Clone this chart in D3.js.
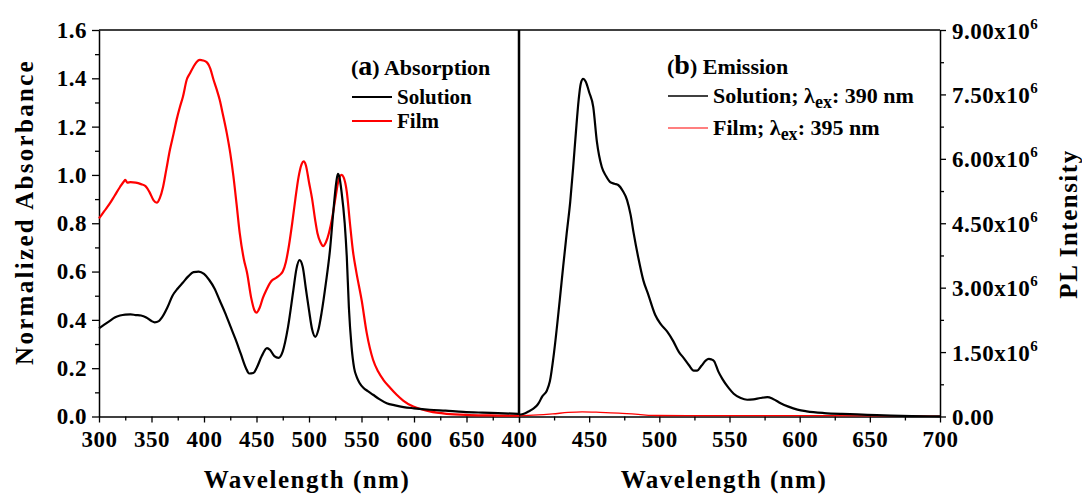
<!DOCTYPE html>
<html>
<head>
<meta charset="utf-8">
<script src="https://cdn.jsdelivr.net/npm/d3@7"></script>
<style>
  html, body { margin: 0; padding: 0; background: #fff; }
  svg text { font-family: "Liberation Serif", "Times New Roman", serif; font-weight: bold; fill: #000; }
</style>
</head>
<body>
<svg id="chart" width="1082" height="495"></svg>
<script>
// (a) Absorption spectra, normalized
const solAbsNm = [300,305,310,315,320,325,330,335,340,345,350,353,357,360,365,370,375,380,385,390,395,400,405,410,415,420,425,430,435,440,443,447,450,455,460,463,467,471,475,480,485,488,491,494,497,500,503,506,509,512,516,520,523,526,527.5,529,531,534,536,538,540.5,543,545.5,548,552,556,561,567,574,582,590,600,615,630,647,665,680,700];
const solAbs   = [0.365,0.38,0.395,0.41,0.418,0.422,0.423,0.42,0.418,0.41,0.395,0.39,0.395,0.41,0.45,0.50,0.53,0.555,0.58,0.598,0.60,0.59,0.565,0.53,0.48,0.43,0.375,0.32,0.26,0.20,0.178,0.18,0.20,0.25,0.283,0.275,0.25,0.243,0.27,0.37,0.52,0.61,0.647,0.62,0.53,0.44,0.36,0.33,0.36,0.43,0.55,0.69,0.84,0.97,1.005,0.99,0.93,0.80,0.66,0.45,0.29,0.20,0.163,0.14,0.118,0.105,0.09,0.072,0.055,0.046,0.039,0.034,0.028,0.024,0.019,0.016,0.014,0.011];

const filmAbsNm = [300,305,310,315,320,324,325,327,330,335,340,344,348,352,355,358,361,364,367.6,371,374,377,380,383.6,386.5,389.6,393,396,399,403,406,409,412,415,418,421.6,425,428,431,434,438,441,445,448,450,453,456,459.5,464,469,472,475,478,481,484,487,490,493,495,497,500,503,506,508,511,513.5,516,519,522,525,528,531,533,536,539,542,545,550.2,555,561,566,570.8,577,583.5,590,599.3,607,615,631,653,680,700];
const filmAbs   = [0.82,0.85,0.88,0.915,0.95,0.975,0.98,0.968,0.97,0.968,0.962,0.955,0.93,0.895,0.885,0.905,0.95,1.02,1.105,1.17,1.23,1.28,1.325,1.395,1.42,1.445,1.468,1.476,1.474,1.465,1.44,1.395,1.355,1.31,1.25,1.175,1.09,0.995,0.88,0.76,0.65,0.595,0.49,0.44,0.43,0.45,0.49,0.525,0.56,0.575,0.585,0.60,0.64,0.71,0.80,0.90,0.99,1.045,1.056,1.04,0.97,0.90,0.81,0.76,0.72,0.705,0.72,0.76,0.82,0.90,0.975,1.0,0.99,0.93,0.80,0.68,0.60,0.48,0.345,0.235,0.185,0.152,0.12,0.09,0.065,0.041,0.03,0.021,0.011,0.006,0.004,0.003];

// (b) Emission spectra, PL counts
const solPLNm = [400,404,407,410,412.6,414,416.6,419.8,422,425,429,431.5,434,436.5,438.6,440.5,442.5,444,445.7,447.5,450,452.9,455.5,459,462,465,468,470.7,474,477,479.5,481.7,485,488.6,492,497,501,505.5,510,514,517.4,521,524.5,527,530,533,535.3,537,539,542,545,549.5,553,558,562.6,567,572,577,581,586.4,592,598.4,605,617.4,630,641,655,665,680,700];
const solPL   = [0.04e6,0.07e6,0.12e6,0.18e6,0.25e6,0.31e6,0.47e6,0.60e6,0.82e6,1.5e6,2.7e6,3.5e6,4.27e6,5.0e6,5.8e6,6.6e6,7.37e6,7.75e6,7.86e6,7.8e6,7.55e6,7.21e6,6.4e6,5.81e6,5.6e6,5.46e6,5.42e6,5.39e6,5.25e6,5.04e6,4.7e6,4.27e6,3.7e6,3.17e6,2.85e6,2.37e6,2.15e6,1.98e6,1.75e6,1.5e6,1.36e6,1.2e6,1.07e6,1.07e6,1.18e6,1.3e6,1.34e6,1.33e6,1.29e6,1.05e6,0.87e6,0.66e6,0.53e6,0.43e6,0.39e6,0.40e6,0.43e6,0.45e6,0.41e6,0.31e6,0.23e6,0.16e6,0.12e6,0.08e6,0.06e6,0.05e6,0.03e6,0.02e6,0.01e6,0.005e6];

const filmPLNm = [400,410,424,435,445,455,471,485,495,520,543,600,650,700];
const filmPL   = [0.016e6,0.03e6,0.06e6,0.095e6,0.11e6,0.10e6,0.08e6,0.05e6,0.025e6,0.02e6,0.02e6,0.02e6,0.015e6,0.01e6];

// Axis ticks
const absXTicks = [300,350,400,450,500,550,600,650,700];
const absXLabels = [300,350,400,450,500,550,600,650];
const absYTicks = [0,0.2,0.4,0.6,0.8,1.0,1.2,1.4,1.6];
const plXTicks = [400,450,500,550,600,650,700];
const plYTicks = [0,1.5e6,3e6,4.5e6,6e6,7.5e6,9e6];

const svg = d3.select("#chart");

const plotLeft = 99, plotMid = 519, plotRight = 940, plotTop = 30, plotBottom = 416.5;

const xA = d3.scaleLinear().domain([300, 700]).range([plotLeft, plotMid]);
const yA = d3.scaleLinear().domain([0, 1.6]).range([plotBottom, plotTop]);
const xE = d3.scaleLinear().domain([400, 700]).range([plotMid, plotRight]);
const yE = d3.scaleLinear().domain([0, 9e6]).range([plotBottom, plotTop]);

const tickFont = g => g.selectAll("text")
  .style("font-size", "23px").style("letter-spacing", "0.5px")
  .style("font-family", "'Liberation Serif', 'Times New Roman', serif").style("font-weight", "bold");

function styleAxis(g) {
  g.selectAll("path.domain").attr("stroke", "#000").attr("stroke-width", 1.5);
  g.selectAll(".tick line").attr("stroke", "#000").attr("stroke-width", 1.3);
}

// minor ticks
function minor(axisGen, scale, vals, tr) {
  svg.append("g").attr("transform", tr)
    .call(axisGen(scale).tickValues(vals).tickSize(4).tickFormat("").tickSizeOuter(0))
    .call(styleAxis)
    .call(g => g.select("path.domain").remove());
}
minor(d3.axisBottom, xA, d3.range(325, 700, 50), `translate(0,${plotBottom})`);
minor(d3.axisBottom, xE, d3.range(425, 700, 50), `translate(0,${plotBottom})`);
minor(d3.axisLeft, yA, d3.range(0.1, 1.6, 0.2), `translate(${plotLeft},0)`);
minor(d3.axisRight, yE, d3.range(0.75e6, 9e6, 1.5e6), `translate(${plotRight},0)`);

// major axes
svg.append("g").attr("transform", `translate(0,${plotBottom})`)
  .call(d3.axisBottom(xA).tickValues(absXTicks).tickSize(6).tickSizeOuter(0).tickPadding(8)
        .tickFormat(d => absXLabels.includes(d) ? d : ""))
  .call(styleAxis).call(tickFont);

svg.append("g").attr("transform", `translate(0,${plotBottom})`)
  .call(d3.axisBottom(xE).tickValues(plXTicks).tickSize(6).tickSizeOuter(0).tickPadding(8)
        .tickFormat(d => d))
  .call(styleAxis).call(tickFont);

svg.append("g").attr("transform", `translate(${plotLeft},0)`)
  .call(d3.axisLeft(yA).tickValues(absYTicks).tickSize(7).tickSizeOuter(0).tickPadding(5)
        .tickFormat(d3.format(".1f")))
  .call(styleAxis).call(tickFont);

const yEAxis = svg.append("g").attr("transform", `translate(${plotRight},0)`)
  .call(d3.axisRight(yE).tickValues(plYTicks).tickSize(6).tickSizeOuter(0).tickPadding(6)
        .tickFormat(""))
  .call(styleAxis);

// right-hand tick labels in "n.nnx10^6" form
yEAxis.selectAll(".tick").each(function(d) {
  const t = d3.select(this).append("text")
    .attr("x", 12).attr("dy", "0.35em")
    .style("font-size", "23px").style("letter-spacing", "0.5px")
    .attr("text-anchor", "start");
  if (d === 0) {
    t.text("0.00");
  } else {
    t.append("tspan").text((d / 1e6).toFixed(2) + "x10");
    t.append("tspan").attr("dy", "-10").style("font-size", "15px").text("6");
  }
});

// frame: top edges and central divider
svg.append("line").attr("x1", plotLeft).attr("x2", plotRight).attr("y1", plotTop).attr("y2", plotTop)
  .attr("stroke", "#000").attr("stroke-width", 1.5);
svg.append("line").attr("x1", plotMid).attr("x2", plotMid).attr("y1", plotTop).attr("y2", plotBottom)
  .attr("stroke", "#000").attr("stroke-width", 2.5);

// spectra
const lineOf = (xs, ys, xsc, ysc) => d3.line()
  .x((d, i) => xsc(xs[i])).y(d => ysc(d)).curve(d3.curveMonotoneX)(ys);

svg.append("path").attr("d", lineOf(filmAbsNm, filmAbs, xA, yA))
  .attr("fill", "none").attr("stroke", "#ff0000").attr("stroke-width", 2.2);
svg.append("path").attr("d", lineOf(solAbsNm, solAbs, xA, yA))
  .attr("fill", "none").attr("stroke", "#000").attr("stroke-width", 2.2);
svg.append("path").attr("d", lineOf(filmPLNm, filmPL, xE, yE))
  .attr("fill", "none").attr("stroke", "#ff0000").attr("stroke-width", 1.3);
svg.append("path").attr("d", lineOf(solPLNm, solPL, xE, yE))
  .attr("fill", "none").attr("stroke", "#000").attr("stroke-width", 2.2);

// axis titles
svg.append("text").attr("x", 307).attr("y", 488).attr("text-anchor", "middle")
  .style("font-size", "25px").style("letter-spacing", "1.5px").text("Wavelength (nm)");
svg.append("text").attr("x", 724).attr("y", 488).attr("text-anchor", "middle")
  .style("font-size", "25px").style("letter-spacing", "1.5px").text("Wavelength (nm)");
svg.append("text").attr("transform", "translate(33,212) rotate(-90)").attr("text-anchor", "middle")
  .style("font-size", "25px").style("letter-spacing", "2.3px").text("Normalized Absorbance");
svg.append("text").attr("transform", "translate(1077,224) rotate(-90)").attr("text-anchor", "middle")
  .style("font-size", "25px").style("letter-spacing", "1.5px").text("PL Intensity");

// legends
function heading(x, y, letter, label) {
  const t = svg.append("text").attr("x", x).attr("y", y).style("font-size", "22px");
  t.append("tspan").text("(");
  t.append("tspan").style("font-size", "28px").text(letter);
  t.append("tspan").text(") " + label);
}
heading(351, 75, "a", "Absorption");
heading(667, 74, "b", "Emission");

function entry(x, y, color, width, size, parts) {
  svg.append("line").attr("x1", x).attr("x2", x + 40).attr("y1", y).attr("y2", y)
    .attr("stroke", color).attr("stroke-width", width);
  const t = svg.append("text").attr("x", x + 45).attr("y", y + 6.5).style("font-size", size + "px");
  parts.forEach(p => {
    const s = t.append("tspan").text(p.text);
    if (p.sub) s.attr("dy", 5).style("font-size", (size - 4) + "px");
    if (p.up) s.attr("dy", -5);
  });
}
entry(352, 97, "#000", 2, 21, [{text: "Solution"}]);
entry(352, 121, "#ff0000", 2, 21, [{text: "Film"}]);
entry(668, 96, "#000", 1.6, 22, [{text: "Solution; λ"}, {text: "ex", sub: true}, {text: ": 390 nm", up: true}]);
entry(668, 128, "#ff0000", 1.2, 22, [{text: "Film; λ"}, {text: "ex", sub: true}, {text: ": 395 nm", up: true}]);
</script>
</body>
</html>
